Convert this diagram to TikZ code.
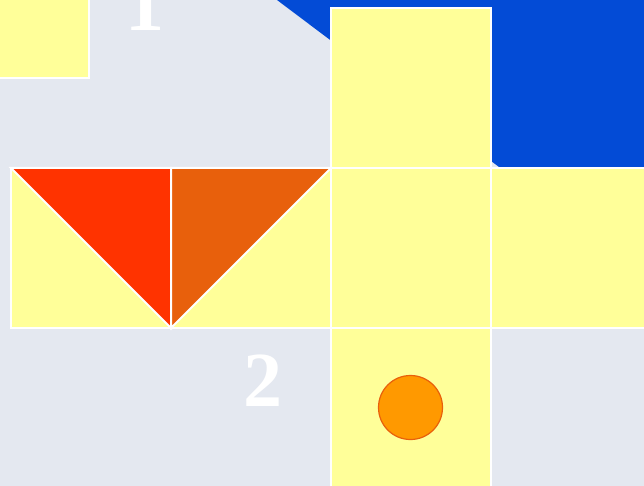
\documentclass[tikz,border=0pt]{standalone}
\usepackage{fontspec}
\setmainfont{Liberation Serif}
\definecolor{bgcol}{HTML}{E4E8F0}
\definecolor{pad}{HTML}{FFFF99}
\definecolor{sky}{HTML}{034BD6}
\definecolor{flame}{HTML}{FF3300}
\definecolor{rust}{HTML}{E8600C}
\definecolor{amber}{HTML}{FF9900}
\begin{document}
\begin{tikzpicture}[x=1pt,y=-1pt,line width=2pt,
  cell/.style={fill=pad,draw=white},
  num/.style={white,font=\bfseries\fontsize{78}{78}\selectfont,anchor=base,inner sep=0pt}]
\fill[bgcol] (0,0) rectangle (644,486);
\useasboundingbox (0,0) rectangle (644,486);
\clip (0,0) rectangle (644,486);
\fill[sky] (277,0)--(499,167)--(650,167)--(650,-5)--cycle;
\draw[cell] (-72,-82) rectangle (88.5,78.5);
\draw[cell] (331,8) rectangle (491,168);
\foreach \x in {11,171,331,491} \draw[cell] (\x,168) rectangle ++(160,160);
\draw[cell] (331,328) rectangle (491,490);
\draw[fill=flame,draw=white] (11,168)--(171,168)--(171,328)--cycle;
\draw[fill=rust,draw=white] (171,168)--(331,168)--(171,328)--cycle;
\draw[fill=amber,draw=rust,line width=1.2pt] (410.5,407.5) circle (32);
\node[num] (one) at (145,31) {1};
\node[num] (two) at (263,406) {2};
\end{tikzpicture}
\end{document}
